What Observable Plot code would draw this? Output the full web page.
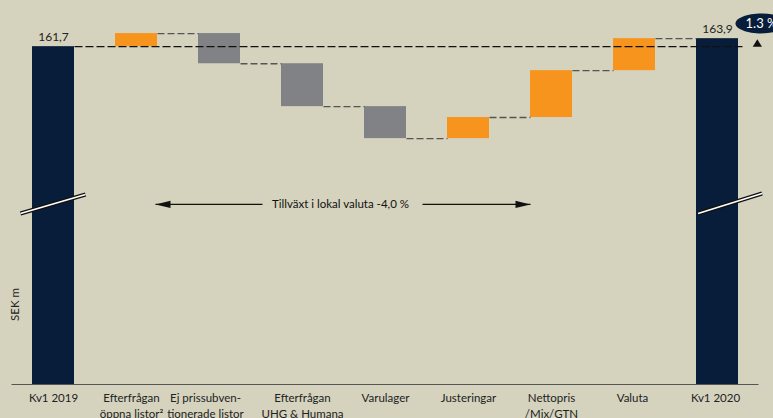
<!DOCTYPE html>
<html>
<head>
<meta charset="utf-8">
<script src="https://cdn.jsdelivr.net/npm/d3@7"></script>
<script src="https://cdn.jsdelivr.net/npm/@observablehq/plot@0.6"></script>
<style>
  html, body { margin: 0; padding: 0; background: #d5d3bd; }
  #chart svg { display: block; }
</style>
</head>
<body>
<div id="chart"></div>
<script>
// ---- data ----
const categories = [
  "Kv1 2019",
  "Efterfrågan\nöppna listor²",
  "Ej prissubven-\ntionerade listor",
  "Efterfrågan\nUHG & Humana",
  "Varulager",
  "Justeringar",
  "Nettopris\n/Mix/GTN",
  "Valuta",
  "Kv1 2020"
];
const startTotal = 161.7;
const endTotal = 163.9;
const changes = [null, 3.6, -8.3, -11.8, -8.8, 5.8, 12.9, 8.8, null];
const startLabel = "161,7";
const endLabel = "163,9";
const growthText = "Tillväxt i lokal valuta -4,0 %";
const badgeText = "1.3 %";
const yLabel = "SEK m";

// axis / annotation anchors in data units
const yMin = 68.74;          // broken-axis baseline
const yMax = 170;
const breakLow = 115.8, breakHigh = 121.0;
const arrowLevel = 118.3;
const badgeLevel = 168.1;

// layout: horizontal label nudges (px) for crowded category labels
const labelNudge = [0, -5, -14, 0, 0, 0, 0, -2, -2];

const navy = "#071d3a", orange = "#f7941d", gray = "#808285";

// ---- build waterfall table ----
const rows = [];
let cum = startTotal;
categories.forEach((c, i) => {
  if (i === 0) {
    rows.push({i, c, y1: yMin, y2: startTotal, end: startTotal, kind: "total"});
  } else if (i === categories.length - 1) {
    rows.push({i, c, y1: yMin, y2: endTotal, end: endTotal, kind: "total"});
  } else {
    const s = cum; cum = +(cum + changes[i]).toFixed(2);
    rows.push({i, c, y1: s, y2: cum, end: cum, kind: changes[i] >= 0 ? "up" : "down"});
  }
});
const hw = 0.253;
const connectors = rows.slice(1, -1).map(r => ({x1: r.i + hw, x2: r.i + 1 - hw, y: r.end}));

const ellipseSymbol = {draw(ctx) {
  const rx = 26, ry = 10, k = 0.5523;
  ctx.moveTo(rx, 0);
  ctx.bezierCurveTo(rx, ry * k, rx * k, ry, 0, ry);
  ctx.bezierCurveTo(-rx * k, ry, -rx, ry * k, -rx, 0);
  ctx.bezierCurveTo(-rx, -ry * k, -rx * k, -ry, 0, -ry);
  ctx.bezierCurveTo(rx * k, -ry, rx, -ry * k, rx, 0);
  ctx.closePath();
}};
const headLeft = {draw(ctx) { ctx.moveTo(0, 0); ctx.lineTo(15, -3.6); ctx.lineTo(15, 3.6); ctx.closePath(); }};
const headRight = {draw(ctx) { ctx.moveTo(0, 0); ctx.lineTo(-15, -3.6); ctx.lineTo(-15, 3.6); ctx.closePath(); }};
const triUp = {draw(ctx) { ctx.moveTo(0, -7.4); ctx.lineTo(4.6, 0); ctx.lineTo(-4.6, 0); ctx.closePath(); }};

const breaks = [
  {x1: -0.398, x2: 0.386, y1: breakLow, y2: breakHigh},
  {x1: 7.766, x2: 8.537, y1: breakLow, y2: breakHigh + 0.3}
];

const labelMarks = rows.map((r, k) =>
  Plot.text([r], {x: "i", y: yMin, text: "c", lineAnchor: "top", dy: 6, dx: labelNudge[k], lineHeight: 1.38, fill: "#222", fontSize: 11.5})
);

const chart = Plot.plot({
  width: 773,
  height: 418,
  marginLeft: 11.5,
  marginRight: 14.5,
  marginTop: 16,
  marginBottom: 34,
  x: {domain: [-0.5, 8.5], axis: null},
  y: {domain: [yMin, yMax], axis: null},
  style: {fontFamily: "Lato, 'Open Sans', sans-serif", fontSize: "11.5px", background: "#d5d3bd", color: "#1a1a1a", overflow: "visible"},
  marks: [
    Plot.rect(rows, {
      x1: d => d.i - hw, x2: d => d.i + hw, y1: "y1", y2: "y2",
      fill: d => d.kind === "total" ? navy : d.kind === "up" ? orange : gray
    }),
    // connectors
    Plot.link(connectors, {x1: "x1", x2: "x2", y1: "y", y2: "y", stroke: "#555", strokeWidth: 1.4, strokeDasharray: "7,3"}),
    // reference dashed line at start level
    Plot.link([{x1: hw, x2: 8.337, y: startTotal}], {x1: "x1", x2: "x2", y1: "y", y2: "y", stroke: "#111", strokeWidth: 1.1, strokeDasharray: "8,3"}),
    Plot.dot([{x: 8.48, y: startTotal}], {x: "x", y: "y", symbol: triUp, fill: "#111", stroke: "none"}),
    // baseline
    Plot.ruleY([yMin], {stroke: "#555", strokeWidth: 1.2}),
    // axis breaks
    Plot.link(breaks, {x1: "x1", x2: "x2", y1: "y1", y2: "y2", stroke: "#111", strokeWidth: 4.2}),
    Plot.link(breaks, {x1: "x1", x2: "x2", y1: "y1", y2: "y2", stroke: "#fff", strokeWidth: 1.6}),
    // value labels
    Plot.text([{x: 0, y: startTotal, t: startLabel}, {x: 8, y: endTotal, t: endLabel}], {
      x: "x", y: "y", text: "t", lineAnchor: "bottom", dy: -6, fill: "#222", fontSize: 12
    }),
    // category labels
    ...labelMarks,
    // growth arrow
    Plot.link([{x1: 1.229, x2: 2.518}, {x1: 4.446, x2: 5.747}], {x1: "x1", x2: "x2", y1: arrowLevel, y2: arrowLevel, stroke: "#111", strokeWidth: 1.3}),
    Plot.dot([{x: 1.229}], {x: "x", y: arrowLevel, symbol: headLeft, fill: "#111", stroke: "none"}),
    Plot.dot([{x: 5.747}], {x: "x", y: arrowLevel, symbol: headRight, fill: "#111", stroke: "none"}),
    Plot.text([growthText], {x: 3.458, y: arrowLevel, text: d => d, fill: "#111", fontSize: 11.5}),
    // badge
    Plot.dot([badgeText], {x: 8.53, y: badgeLevel, symbol: ellipseSymbol, fill: navy, stroke: "none"}),
    Plot.text([badgeText], {x: 8.53, y: badgeLevel, text: d => d, fill: "#fff", fontSize: 13, fontWeight: "normal"}),
    // y label
    Plot.text([yLabel], {x: -0.458, y: 90.75, text: d => d, rotate: -90, fill: "#222", fontSize: 11.5})
  ]
});
document.getElementById("chart").appendChild(chart);
</script>
</body>
</html>
